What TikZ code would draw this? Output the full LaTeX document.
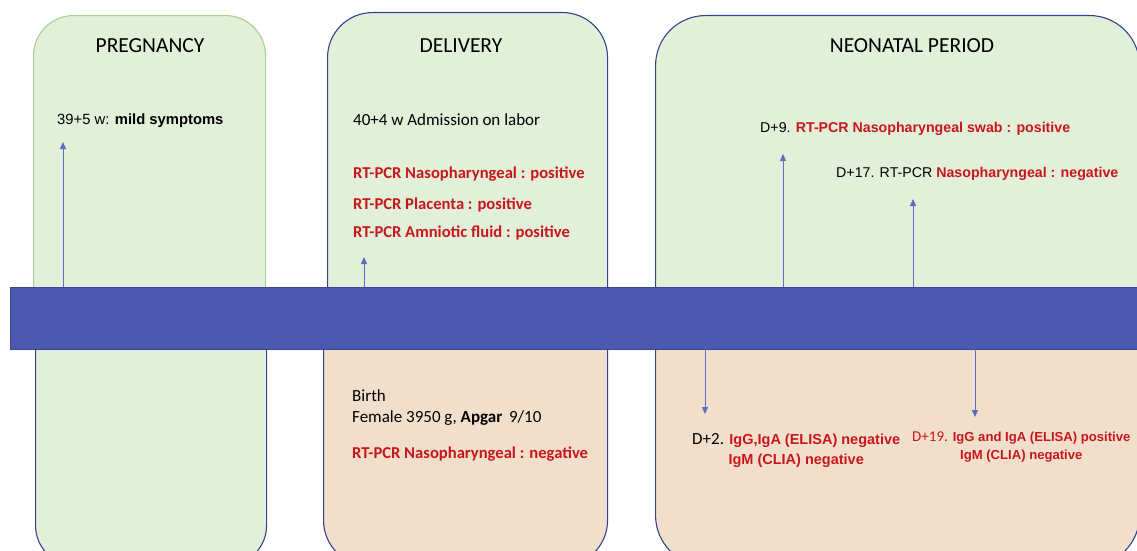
\documentclass[tikz,border=0pt]{standalone}
\usepackage{fontspec}
\setmainfont{Carlito}
\newfontfamily\arialfont{Liberation Sans}
\usetikzlibrary{positioning, arrows.meta}

\definecolor{barblue}{HTML}{4A58B0}
\definecolor{barline}{HTML}{3A4796}
\definecolor{boxgreen}{HTML}{E2EFD9}
\definecolor{boxpeach}{HTML}{F2DFCB}
\definecolor{greenline}{HTML}{A9D18E}
\definecolor{boxline}{HTML}{34428F}
\definecolor{txtred}{HTML}{C8161E}
\definecolor{arrblue}{HTML}{5A6EC4}

\begin{document}
\begin{tikzpicture}[x = 1pt, y = -1pt]
\begin{scope}[
	periodbox/.style={
		draw=boxline, line width=1.1pt, rounded corners=#1,
		anchor=north west, inner sep=0pt
	},
	title/.style={font=\fontsize{21.5}{25}\selectfont},
	note/.style={anchor=west, inner sep=0pt, font=\fontsize{17}{21}\selectfont},
	rednote/.style={note, text=txtred, font=\bfseries\fontsize{16.6}{21}\selectfont},
	labnote/.style={inner sep=0pt, align=center, font=\arialfont\fontsize{14.2}{20}\selectfont},
	evarr/.style={draw=arrblue, line width=0.9pt, -{Triangle[length=7pt, width=6pt]}}
]
\useasboundingbox (0, 0) rectangle (1137, 551);
\clip (0, 0) rectangle (1137, 551);
% the three periods, upper and lower halves
\node[periodbox=40, draw=greenline, fill=boxgreen, minimum width=232pt, minimum height=330pt] (preg-top) at (33, 15) {};
\node[periodbox=45, fill=boxgreen, minimum width=280pt, minimum height=333pt] (del-top) at (327, 12) {};
\node[periodbox=50, fill=boxgreen, minimum width=484pt, minimum height=330pt] (neo-top) at (655, 15) {};
\node[periodbox=40, fill=boxgreen, minimum width=231pt, minimum height=270pt] (preg-bot) at (35, 295) {};
\node[periodbox=45, fill=boxpeach, minimum width=284pt, minimum height=270pt] (del-bot) at (323, 295) {};
\node[periodbox=50, fill=boxpeach, minimum width=484pt, minimum height=270pt] (neo-bot) at (655, 295) {};
% time line
\node[anchor=north west, draw=barline, fill=barblue, line width=1pt, minimum width=1140pt, minimum height=62pt, inner sep=0pt] (bar) at (10, 287) {};
\node[title] (preg-title) at (150, 46) {PREGNANCY};
\node[title] (del-title) at (461, 46) {DELIVERY};
\node[title] (neo-title) at (912, 46) {NEONATAL PERIOD};
% events above the line
\node[note, font=\arialfont\fontsize{14.8}{20}\selectfont] (preg-symp) at (57, 121) {39+5 w: \textbf{mild symptoms}};
\node[note] (del-adm) at (353, 120) {40+4 w Admission on labor};
\node[rednote] (del-naso) at (353, 174) {RT-PCR Nasopharyngeal : positive};
\node[rednote] (del-plac) at (353, 205) {RT-PCR Placenta : positive};
\node[rednote] (del-amnio) at (353, 233) {RT-PCR Amniotic fluid : positive};
\node[labnote, anchor=west] (neo-d9) at (760, 129) {D+9. \textcolor{txtred}{\bfseries RT-PCR Nasopharyngeal swab : positive}};
\node[labnote, anchor=west] (neo-d17) at (836, 174) {D+17. RT-PCR \textcolor{txtred}{\bfseries Nasopharyngeal : negative}};
% events below the line
\node[note, align=left, anchor=north west] (del-birth) at (352, 389) {Birth\\Female 3950 g, \textbf{Apgar}\, 9/10};
\node[rednote] (del-neg) at (352, 454) {RT-PCR Nasopharyngeal : negative};
\node[labnote, anchor=north west, font=\arialfont\fontsize{14.5}{20}\selectfont] (neo-d2) at (692, 433) {{\rmfamily\fontsize{17}{20}\selectfont D+2.} \textcolor{txtred}{\bfseries IgG,IgA (ELISA) negative}\\\textcolor{txtred}{\bfseries IgM (CLIA) negative}};
\node[labnote, anchor=north west, text=txtred, font=\arialfont\bfseries\fontsize{13.1}{18}\selectfont] (neo-d19) at (912, 432) {{\rmfamily\mdseries\fontsize{15}{18}\selectfont D+19.} IgG and IgA (ELISA) positive\\IgM (CLIA) negative};
% arrows from the line
\foreach \n/\x/\ytip in {1/63/142, 2/364/257, 3/783/154, 4/913/199} {
	\coordinate (up-\n) at (\x, 287);
	\coordinate (tip-\n) at (\x, \ytip);
	\draw[evarr] (up-\n) -- (tip-\n);
}
\foreach \n/\x/\ytip in {1/705/414, 2/975/417} {
	\coordinate (down-\n) at (\x, 349);
	\coordinate (dtip-\n) at (\x, \ytip);
	\draw[evarr] (down-\n) -- (dtip-\n);
}
\end{scope}
\end{tikzpicture}
\end{document}
